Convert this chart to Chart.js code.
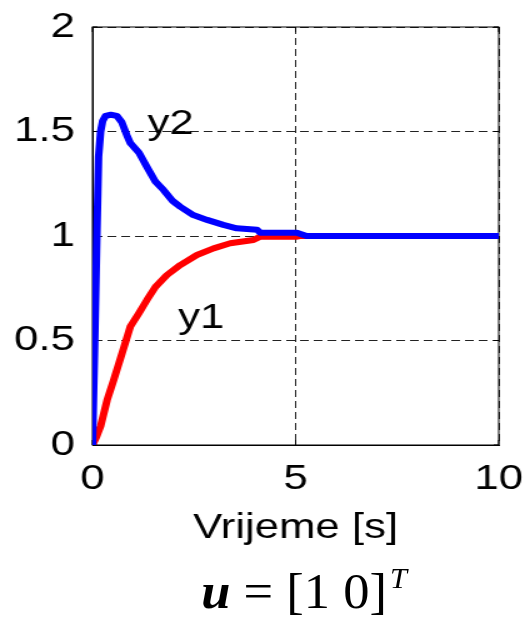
<!DOCTYPE html>
<html>
<head>
<meta charset="utf-8">
<script src="https://cdn.jsdelivr.net/npm/chart.js@4"></script>
<style>
  html, body { margin: 0; padding: 0; background: #fff; overflow: hidden; }
  /* the reference figure is stretched sideways, so draw narrow and widen */
  #wrap {
    position: relative;
    width: 420px;
    height: 619px;
    transform: scaleX(1.25);
    transform-origin: 0 0;
  }
  #chart { display: block; }
  #formula {
    position: absolute;
    left: 161px;
    top: 566px;
    font-family: "Liberation Serif", "Times New Roman", serif;
    font-size: 50px;
    line-height: 50px;
    white-space: nowrap;
    color: #000;
    transform: scaleX(0.84);
    transform-origin: 0 0;
  }
  #formula sup { font-size: 29px; font-style: italic; vertical-align: 20px; line-height: 0; margin-left: 3px; }
</style>
</head>
<body>
<div id="wrap">
  <canvas id="chart" width="420" height="565"></canvas>
  <div id="formula"><b><i>u</i></b> = [1 0]<sup>T</sup></div>
</div>
<script>
// step responses
const timeY1 = [0, 0.1, 0.2, 0.36, 0.52, 0.73, 0.93, 1.14, 1.34, 1.55, 1.83, 2.16, 2.57, 2.98, 3.39, 3.96, 4.13, 5.03, 5.1, 10];
const valuesY1 = [0, 0.04, 0.09, 0.215, 0.31, 0.44, 0.566, 0.63, 0.694, 0.757, 0.813, 0.861, 0.909, 0.941, 0.965, 0.981, 0.997, 0.997, 1.0, 1.0];

const timeY2 = [0, 0.05, 0.1, 0.15, 0.2, 0.25, 0.32, 0.45, 0.6, 0.72, 0.85, 0.93, 1.14, 1.34, 1.55, 1.75, 1.96, 2.16, 2.48, 2.82, 3.22, 3.55, 4.05, 4.13, 5.03, 5.27, 10];
const valuesY2 = [0, 0.45, 0.93, 1.38, 1.5, 1.55, 1.575, 1.58, 1.575, 1.545, 1.48, 1.445, 1.40, 1.33, 1.26, 1.22, 1.17, 1.14, 1.10, 1.077, 1.053, 1.037, 1.03, 1.016, 1.016, 1.0, 1.0];

const xTicks = [0, 5, 10];
const yTicks = [0, 0.5, 1, 1.5, 2];

// in-plot curve labels: [text, t, value]
const curveLabels = [
    ["y2", 1.35, 1.49],
    ["y1", 2.11, 0.56]
];

const FONT = "'Liberation Sans', Arial, sans-serif";

function toPoints(ts, vs) {
    return ts.map((t, i) => ({ x: t, y: vs[i] }));
}

// box around the plot + MATLAB style inward ticks
const framePlugin = {
    id: "frame",
    beforeDatasetsDraw(chart) {
        const { ctx, chartArea: a, scales } = chart;
        ctx.save();
        ctx.strokeStyle = "#000";
        ctx.lineWidth = 1;
        ctx.strokeRect(a.left, a.top, a.right - a.left, a.bottom - a.top);
        ctx.beginPath();
        xTicks.forEach(v => {
            const px = scales.x.getPixelForValue(v);
            ctx.moveTo(px, a.bottom); ctx.lineTo(px, a.bottom - 5);
            ctx.moveTo(px, a.top); ctx.lineTo(px, a.top + 5);
        });
        yTicks.forEach(v => {
            const py = scales.y.getPixelForValue(v);
            ctx.moveTo(a.left, py); ctx.lineTo(a.left + 4, py);
            ctx.moveTo(a.right, py); ctx.lineTo(a.right - 4, py);
        });
        ctx.stroke();
        ctx.restore();
    },
    afterDatasetsDraw(chart) {
        const { ctx, scales } = chart;
        ctx.save();
        ctx.fillStyle = "#000";
        ctx.font = "35px " + FONT;
        ctx.textAlign = "left";
        ctx.textBaseline = "alphabetic";
        curveLabels.forEach(([txt, t, v]) => {
            ctx.fillText(txt, scales.x.getPixelForValue(t), scales.y.getPixelForValue(v));
        });
        ctx.restore();
    }
};

new Chart(document.getElementById("chart"), {
    type: "line",
    data: {
        datasets: [
            {
                label: "y2",
                data: toPoints(timeY2, valuesY2),
                borderColor: "#0000ff",
                borderWidth: 6,
                pointRadius: 0,
                tension: 0,
                borderJoinStyle: "round",
                borderCapStyle: "round",
                order: 0
            },
            {
                label: "y1",
                data: toPoints(timeY1, valuesY1),
                borderColor: "#ff0000",
                borderWidth: 6,
                pointRadius: 0,
                tension: 0,
                borderJoinStyle: "round",
                borderCapStyle: "round",
                order: 1
            }
        ]
    },
    options: {
        responsive: false,
        animation: false,
        layout: { padding: { top: 27, right: 21, left: 0, bottom: 16 } },
        plugins: {
            legend: { display: false },
            tooltip: { enabled: false }
        },
        scales: {
            x: {
                type: "linear",
                min: 0,
                max: 10,
                afterBuildTicks: s => { s.ticks = xTicks.map(v => ({ value: v })); },
                afterFit: s => {
                    s.height = 104;
                    s.paddingLeft = 0; s.paddingRight = 0;
                },
                ticks: {
                    color: "#000",
                    font: { family: FONT, size: 35 },
                    padding: 13,
                    maxRotation: 0,
                    callback: v => String(v)
                },
                grid: {
                    drawTicks: false,
                    color: "#222",
                    lineWidth: 1
                },
                border: { display: true, color: "#000", dash: [7, 4] },
                title: {
                    display: true,
                    text: "Vrijeme [s]",
                    color: "#000",
                    font: { family: FONT, size: 35 },
                    padding: { top: 0, bottom: 0 }
                }
            },
            y: {
                type: "linear",
                min: 0,
                max: 2,
                afterBuildTicks: s => { s.ticks = yTicks.map(v => ({ value: v })); },
                afterFit: s => {
                    s.width = 74;
                    s.paddingTop = 0; s.paddingBottom = 0;
                },
                ticks: {
                    color: "#000",
                    font: { family: FONT, size: 35 },
                    padding: 14,
                    callback: v => String(v)
                },
                grid: {
                    drawTicks: false,
                    color: "#222",
                    lineWidth: 1
                },
                border: { display: true, color: "#000", dash: [7, 4] }
            }
        }
    },
    plugins: [framePlugin]
});
</script>
</body>
</html>
